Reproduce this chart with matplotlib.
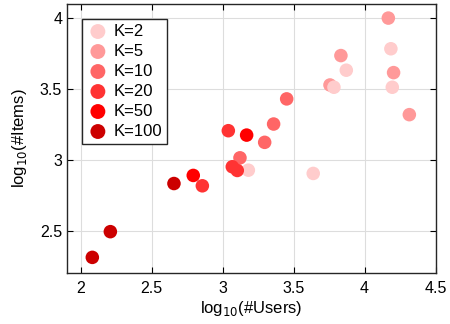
import numpy as np
import matplotlib
matplotlib.use('Agg')
import matplotlib.pyplot as plt

plt.rcParams['font.family'] = ['Liberation Sans', 'DejaVu Sans']

# Data: log10(#Users), log10(#Items) per K
k_labels = ['K=2', 'K=5', 'K=10', 'K=20', 'K=50', 'K=100']
k_colors = ['#ffcccc', '#ff9999', '#ff6666', '#ff3333', '#ff0000', '#cc0000']

users_k2 = [4.185, 3.871, 3.784, 4.195, 3.181, 3.638]
items_k2 = [3.784, 3.633, 3.513, 3.513, 2.929, 2.906]
users_k5 = [4.167, 3.833, 3.756, 4.204, 4.315]
items_k5 = [4.000, 3.736, 3.529, 3.616, 3.320]
users_k10 = [3.451, 3.359, 3.296, 3.122]
items_k10 = [3.431, 3.254, 3.125, 3.016]
users_k20 = [3.040, 3.068, 3.103, 2.857]
items_k20 = [3.207, 2.953, 2.927, 2.819]
users_k50 = [3.169, 2.793]
items_k50 = [3.176, 2.892]
users_k100 = [2.657, 2.209, 2.082]
items_k100 = [2.835, 2.496, 2.315]

users = [users_k2, users_k5, users_k10, users_k20, users_k50, users_k100]
items = [items_k2, items_k5, items_k10, items_k20, items_k50, items_k100]
# stacking order of the groups (K=2 sits over K=5, under the rest)
draw_z = [3.2, 3.1, 3.3, 3.4, 3.5, 3.6]

fig = plt.figure(figsize=(4.5, 3.24), dpi=100)
ax = fig.add_axes([0.149, 0.157, 0.819, 0.831])

handles = []
for xs, ys, c, lab, z in zip(users, items, k_colors, k_labels, draw_z):
    h = ax.scatter(xs, ys, s=95, color=c, edgecolors='none', label=lab, zorder=z)
    handles.append(h)

ax.set_xlim(1.904, 4.5)
ax.set_ylim(2.204, 4.10)
ax.set_xticks([2, 2.5, 3, 3.5, 4, 4.5])
ax.set_xticklabels(['2', '2.5', '3', '3.5', '4', '4.5'])
ax.set_yticks([2.5, 3, 3.5, 4])
ax.set_yticklabels(['2.5', '3', '3.5', '4'])
ax.grid(True, color='#dddddd', linewidth=0.8)
ax.set_axisbelow(True)
ax.tick_params(direction='in', top=True, right=True, labelsize=11.5, length=4, width=0.8)
ax.tick_params(axis='x', pad=6)
for sp in ax.spines.values():
    sp.set_linewidth(1.0)
    sp.set_color('#262626')

ax.set_xlabel(r'log$_{10}$(#Users)', fontsize=12, labelpad=2)
ax.set_ylabel(r'log$_{10}$(#Items)', fontsize=12, labelpad=8)

leg = ax.legend(handles, k_labels, loc='upper left', fontsize=12, frameon=True,
                fancybox=False, edgecolor='#262626', borderpad=0.3,
                labelspacing=0.3, handletextpad=0.3, handlelength=1.3,
                borderaxespad=0.9, scatterpoints=1, framealpha=1,
                markerscale=1.1)
leg.get_frame().set_linewidth(1.0)

fig.savefig('out.png', dpi=100)
